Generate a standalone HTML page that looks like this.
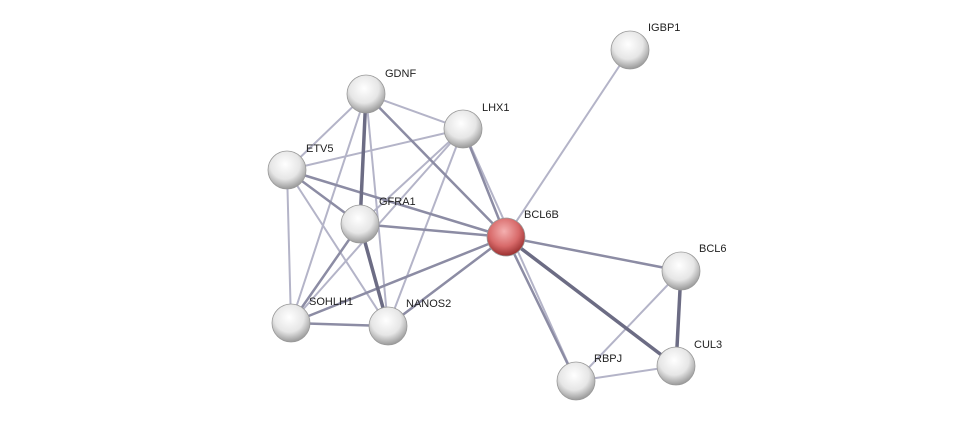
<!DOCTYPE html>
<html><head><meta charset="utf-8"><style>
html,body{margin:0;padding:0;background:#fff;}
svg{display:block;}
text{font-family:"Liberation Sans",sans-serif;font-size:11px;fill:#222;}
</style></head><body>
<svg width="975" height="426" viewBox="0 0 975 426" xmlns="http://www.w3.org/2000/svg">
<defs>
<radialGradient id="g" cx="45%" cy="35%" r="65%">
<stop offset="0" stop-color="#ffffff"/><stop offset="0.6" stop-color="#e6e6e6"/><stop offset="1" stop-color="#9a9a9a"/>
</radialGradient>
<radialGradient id="r" cx="45%" cy="35%" r="65%">
<stop offset="0" stop-color="#f4b0b0"/><stop offset="0.6" stop-color="#d86a6a"/><stop offset="1" stop-color="#9a3030"/>
</radialGradient>
</defs>
<g stroke-linecap="round">
<g stroke="#b4b4c8" stroke-width="2">
<line x1="630" y1="50" x2="506" y2="237"/>
<line x1="366" y1="94" x2="463" y2="129"/>
<line x1="366" y1="94" x2="287" y2="170"/>
<line x1="366" y1="94" x2="291" y2="323"/>
<line x1="366" y1="94" x2="388" y2="326"/>
<line x1="463" y1="129" x2="287" y2="170"/>
<line x1="463" y1="129" x2="360" y2="224"/>
<line x1="463" y1="129" x2="291" y2="323"/>
<line x1="463" y1="129" x2="388" y2="326"/>
<line x1="463" y1="129" x2="576" y2="381"/>
<line x1="287" y1="170" x2="291" y2="323"/>
<line x1="287" y1="170" x2="388" y2="326"/>
<line x1="681" y1="271" x2="576" y2="381"/>
<line x1="576" y1="381" x2="676" y2="366"/>
</g>
<g stroke="#8c8ca4" stroke-width="2.5">
<line x1="366" y1="94" x2="506" y2="237"/>
<line x1="463" y1="129" x2="506" y2="237"/>
<line x1="287" y1="170" x2="360" y2="224"/>
<line x1="287" y1="170" x2="506" y2="237"/>
<line x1="360" y1="224" x2="506" y2="237"/>
<line x1="360" y1="224" x2="291" y2="323"/>
<line x1="506" y1="237" x2="291" y2="323"/>
<line x1="506" y1="237" x2="388" y2="326"/>
<line x1="506" y1="237" x2="681" y2="271"/>
<line x1="506" y1="237" x2="576" y2="381"/>
<line x1="291" y1="323" x2="388" y2="326"/>
</g>
<g stroke="#6c6c84" stroke-width="3.5">
<line x1="366" y1="94" x2="360" y2="224"/>
<line x1="360" y1="224" x2="388" y2="326"/>
<line x1="506" y1="237" x2="676" y2="366"/>
<line x1="681" y1="271" x2="676" y2="366"/>
</g>
</g>
<g stroke="#999" stroke-width="0.8">
<circle cx="630" cy="50" r="19" fill="url(#g)"/>
<circle cx="366" cy="94" r="19" fill="url(#g)"/>
<circle cx="463" cy="129" r="19" fill="url(#g)"/>
<circle cx="287" cy="170" r="19" fill="url(#g)"/>
<circle cx="360" cy="224" r="19" fill="url(#g)"/>
<circle cx="506" cy="237" r="19" fill="url(#r)"/>
<circle cx="681" cy="271" r="19" fill="url(#g)"/>
<circle cx="291" cy="323" r="19" fill="url(#g)"/>
<circle cx="388" cy="326" r="19" fill="url(#g)"/>
<circle cx="676" cy="366" r="19" fill="url(#g)"/>
<circle cx="576" cy="381" r="19" fill="url(#g)"/>
</g>
<text x="648" y="31">IGBP1</text>
<text x="385" y="77">GDNF</text>
<text x="482" y="111">LHX1</text>
<text x="306" y="152">ETV5</text>
<text x="379" y="205">GFRA1</text>
<text x="524" y="218">BCL6B</text>
<text x="699" y="252">BCL6</text>
<text x="309" y="305">SOHLH1</text>
<text x="406" y="307">NANOS2</text>
<text x="694" y="348">CUL3</text>
<text x="594" y="362">RBPJ</text>
</svg>
</body></html>
